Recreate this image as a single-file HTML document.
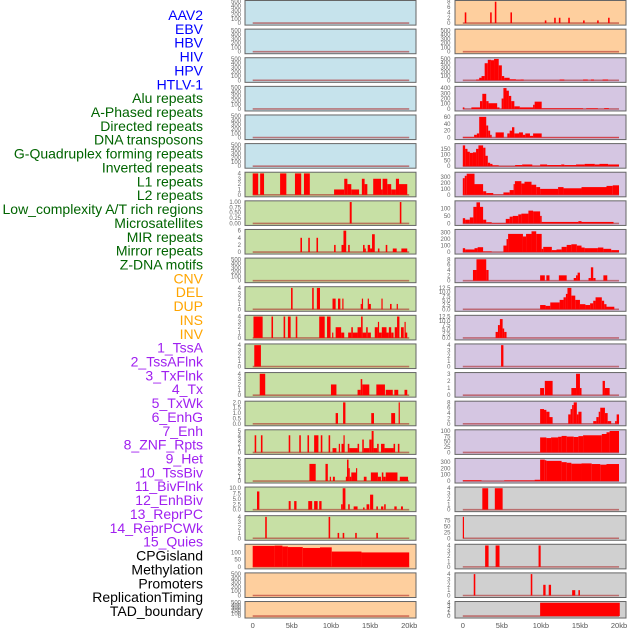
<!DOCTYPE html>
<html><head><meta charset="utf-8">
<style>
html,body{margin:0;padding:0;background:#fff;width:630px;height:630px;overflow:hidden}
svg{display:block;font-family:"Liberation Sans",sans-serif}
</style></head>
<body>
<svg id="chart" width="630" height="630" viewBox="0 0 630 630"></svg>
<script>
// ---- labels ----
const rowLabels = ["AAV2","EBV","HBV","HIV","HPV","HTLV-1","Alu repeats","A-Phased repeats","Directed repeats","DNA transposons","G-Quadruplex forming repeats","Inverted repeats","L1 repeats","L2 repeats","Low_complexity A/T rich regions","Microsatellites","MIR repeats","Mirror repeats","Z-DNA motifs","CNV","DEL","DUP","INS","INV","1_TssA","2_TssAFlnk","3_TxFlnk","4_Tx","5_TxWk","6_EnhG","7_Enh","8_ZNF_Rpts","9_Het","10_TssBiv","11_BivFlnk","12_EnhBiv","13_ReprPC","14_ReprPCWk","15_Quies","CPGisland","Methylation","Promoters","ReplicationTiming","TAD_boundary"];
const labelColors = ["#0000ff","#006400","#ffa500","#a020f0","#000000"];
const labelGroup = [0,0,0,0,0,0,1,1,1,1,1,1,1,1,1,1,1,1,1,2,2,2,2,2,3,3,3,3,3,3,3,3,3,3,3,3,3,3,3,4,4,4,4,4];
const xTickKb = [0,5,10,15,20];
const xTickLabels = ["0","5kb","10kb","15kb","20kb"];
const T500=["0","100","200","300","400","500"], T4=["0","1","2","3","4"], T8=["0","2","4","6","8"];
// ---- left column data: [startKb, endKb, value] ----
const L_L1=[[0,0.7,4],[0.95,1.45,4],[3.5,4.3,4],[5.4,6.2,4],[6.55,7.3,4],[10.4,11.7,1],[11.7,12.1,3],[12.1,12.6,2],[12.6,13.6,1],[13.95,14.3,3],[14.3,14.65,2],[15.4,16.4,3],[16.4,16.6,1],[16.6,17.2,3],[17.2,17.7,2],[17.7,18.3,1],[18.3,18.7,3],[18.7,19.4,2],[19.4,19.75,2]];
const L_LowComp=[[12.4,12.65,1],[18.8,19.0,1]];
const L_MIR=[[6.1,6.3,4],[7.1,7.3,4],[8.15,8.35,4],[10.4,10.6,2],[11.35,11.6,2],[11.6,11.95,6],[12.2,12.4,2],[14.1,14.3,2],[14.3,14.4,1],[14.7,15.0,2],[15.0,15.25,1],[15.25,15.6,5],[16.0,16.2,1],[17.0,17.2,2],[17.9,18.4,1],[19.0,19.75,1]];
const L_DEL=[[4.9,5.1,4],[7.6,7.8,4],[8.2,8.6,4],[10.2,10.6,2],[10.9,11.2,2],[11.45,11.6,2],[13.8,13.95,1],[13.95,14.1,2],[14.7,14.85,2],[14.85,15.1,1],[16.45,16.6,2],[17.55,17.75,1],[18.4,18.55,1]];
const L_INS=[[0.1,1.27,4],[2.4,2.6,4],[3.95,4.15,4],[4.5,4.85,4],[5.5,5.7,4],[8.5,9.2,4],[9.5,9.95,4],[10.15,10.3,1],[10.6,11.3,2],[11.3,11.7,1],[12.2,12.6,1],[12.6,12.8,2],[12.8,13.4,1],[13.4,13.85,2],[13.85,14.05,4],[14.05,14.5,1],[14.5,14.7,2],[14.7,15.1,1],[15.6,16.0,2],[16.0,16.1,3],[16.1,16.5,1],[16.5,17.1,2],[17.1,17.4,1],[17.4,17.7,2],[17.7,18.0,1],[18.15,18.45,2],[18.45,18.75,4],[18.95,19.3,2],[19.4,19.5,3],[19.5,19.75,1]];
const L_TssA=[[0.2,1.05,4]];
const L_TxFlnk=[[0.9,1.6,4],[10.0,10.7,2],[13.4,13.8,1],[13.8,14.0,3],[14.0,14.9,2],[15.8,16.9,2],[17.0,17.9,1],[18.1,18.6,1],[19.4,19.75,1]];
const L_TxWk=[[10.6,10.9,1],[11.55,11.85,2],[15.15,15.5,1],[17.7,18.2,1],[18.65,18.8,2]];
const L_Enh=[[0.25,0.45,4],[1.05,1.25,4],[4.6,4.8,4],[5.95,6.15,4],[7.0,7.2,4],[7.85,8.4,4],[8.7,8.9,4],[9.7,9.9,4],[10.2,10.7,1],[11.0,11.15,2],[11.35,11.6,2],[11.6,11.75,4],[12.15,12.35,2],[12.35,13.4,1],[13.4,13.6,2],[14.0,14.2,3],[14.2,14.9,1],[14.9,15.2,3],[15.2,15.45,5],[15.45,15.9,1],[15.9,16.1,2],[16.4,16.85,2],[16.85,18.0,1],[18.0,18.2,2],[18.55,18.75,2]];
const L_Het=[[7.25,8.05,4],[9.3,9.6,4],[9.85,10.0,1],[10.25,10.5,1],[11.9,12.05,1],[12.05,12.25,5],[12.25,12.4,3],[12.4,12.6,1],[12.6,13.2,2],[13.2,13.35,3],[14.2,14.55,1],[15.1,16.0,2],[16.0,16.4,1],[16.5,16.7,2],[16.7,17.0,1],[17.0,18.5,2],[18.8,19.85,1]];
const L_BivFlnk=[[0.55,0.85,8.5],[4.6,4.85,4],[5.3,5.6,4],[7.1,7.6,4],[7.85,8.3,4],[8.5,8.8,4],[11.3,11.5,2.5],[11.5,11.85,10],[12.2,12.4,2.5],[12.9,13.4,1.5],[14.1,14.3,1],[14.55,14.9,2.5],[15.0,15.4,7],[15.8,16.0,1.5],[16.4,16.7,1.5],[16.8,17.0,2.5],[18.1,18.4,1.5],[18.95,19.2,1.5]];
const L_ReprPC=[[1.6,1.8,4],[9.7,9.9,4],[10.85,11.05,1],[11.5,11.7,1],[13.1,13.3,1],[15.8,16.0,1]];
const L_Methyl=[[0,2.8,145],[2.8,3.8,147],[3.8,4.5,141],[4.5,6.4,137],[6.4,8.6,131],[8.6,10.1,135],[10.1,13.9,106],[13.9,20,100]];
// ---- right column data ----
const R_AAV2=[[0.25,0.45,4],[3.5,3.7,4],[4.1,4.3,8],[6.1,6.3,4],[10.5,10.7,1],[11.7,11.9,2],[12.3,12.5,2],[13.5,13.7,2],[15.4,15.6,1],[17.2,17.4,1],[18.6,18.8,2]];
const R_HIV=[[1.7,2.1,20],[2.1,2.4,60],[2.4,2.8,100],[2.8,3.2,400],[3.2,3.6,480],[3.6,4.0,470],[4.0,4.6,500],[4.6,5.0,350],[5.0,5.3,100],[5.3,6.0,60],[6.0,6.8,25],[6.8,7.4,15],[7.4,7.8,20],[12.4,13.0,20],[15.4,16.0,20],[16.4,16.8,20],[17.9,18.6,20]];
const R_Alu=[[0,0.2,30],[1.1,2.2,30],[2.2,2.5,150],[2.5,3.0,290],[3.0,3.3,150],[3.3,4.4,110],[4.4,4.7,30],[4.97,5.2,200],[5.2,5.6,400],[5.6,5.9,350],[5.9,6.2,250],[6.2,6.6,150],[6.6,7.3,50],[7.3,9.0,30],[9.0,9.2,80],[9.2,10.1,140],[10.1,15.4,12],[15.8,17.3,12],[18.1,18.7,15]];
const R_Directed=[[0,1.45,2],[1.45,1.8,8],[1.8,2.1,12],[2.1,3.0,60],[3.0,3.25,35],[3.25,3.5,20],[3.5,3.7,8],[4.2,5.25,15],[5.7,6.0,12],[6.0,6.3,20],[6.3,6.6,30],[6.6,7.2,12],[7.2,7.7,15],[7.7,8.0,8],[8.0,8.6,12],[8.6,9.0,5],[9.0,10.1,12],[10.1,20,1]];
const R_GQuad=[[0,0.3,180],[0.3,0.6,150],[0.6,0.9,125],[0.9,1.3,115],[1.3,1.7,120],[1.7,2.0,150],[2.0,2.6,180],[2.6,2.9,160],[2.9,3.2,90],[3.2,3.5,30],[3.5,3.8,20],[3.8,4.6,8],[4.6,6.7,2],[6.7,7.6,10],[7.6,8.9,15],[8.9,9.9,5],[9.9,10.8,15],[10.8,12.6,10],[12.6,13.0,15],[13.0,14.5,10],[14.5,15.6,15],[15.6,16.9,20],[16.9,17.5,15],[17.5,18.6,20],[18.6,20,15]];
const R_L1=[[0,0.25,280],[0.25,0.5,320],[0.5,1.5,355],[1.5,2.6,180],[2.6,3.0,60],[3.0,3.9,30],[3.9,5.2,5],[5.2,6.0,40],[6.0,6.5,80],[6.5,6.67,180],[6.67,7.5,230],[7.5,7.9,190],[7.9,8.8,220],[8.8,9.4,170],[9.4,9.9,130],[9.9,12.2,100],[12.2,12.9,130],[12.9,15.2,110],[15.2,18.4,130],[18.4,19.2,150],[19.2,20,160]];
const R_LowComp=[[0,0.3,35],[0.3,0.9,25],[0.9,1.35,40],[1.35,1.75,110],[1.75,2.2,140],[2.2,2.6,110],[2.6,3.0,25],[3.0,3.7,8],[3.7,5.5,3],[5.5,6.0,30],[6.0,6.4,45],[6.4,7.1,50],[7.1,7.5,60],[7.5,8.4,65],[8.4,9.0,85],[9.0,9.9,80],[9.9,10.1,50],[10.1,14.8,10],[14.8,15.2,15],[15.2,19.3,10]];
const R_MIR=[[0,0.3,60],[0.3,1.5,40],[1.5,1.9,60],[1.9,2.6,75],[2.6,3.7,10],[5.2,5.6,100],[5.6,5.8,200],[5.8,7.7,280],[7.7,8.1,240],[8.1,8.8,280],[8.8,9.4,320],[9.4,10.1,280],[10.1,10.3,50],[10.3,11.4,80],[11.4,12.0,30],[12.0,12.65,40],[12.65,13.3,80],[13.3,13.9,110],[13.9,14.6,120],[14.6,15.2,100],[15.2,15.6,70],[15.6,17.3,60],[17.3,18.0,70],[18.0,19.0,50],[19.0,20,30]];
const R_ZDNA=[[1.3,1.75,4],[1.75,3.0,8],[3.0,3.3,4],[9.9,10.5,2],[10.7,11.1,2],[12.3,13.3,2],[14.2,14.5,1],[14.5,14.7,2],[14.7,15.0,3],[16.1,16.4,1],[16.4,16.7,5],[16.7,17.0,1],[18.0,18.5,2]];
const R_DEL=[[9.9,10.6,2.5],[10.6,11.2,2],[11.2,12.4,4],[12.4,12.9,5.5],[12.9,13.2,7],[13.2,13.4,9],[13.4,13.9,12.5],[13.9,14.4,8],[14.4,15.0,5.5],[15.0,15.7,3],[15.7,16.3,2.5],[16.3,16.7,3.5],[16.7,17.0,5],[17.0,17.8,7],[17.8,18.1,5],[18.1,18.4,3],[18.4,19.4,1.5]];
const R_INS=[[4.2,4.5,3.5],[4.5,4.75,7.5],[4.75,5.1,11],[5.1,5.3,5.5],[5.3,5.6,3.5]];
const R_TssA=[[4.9,5.2,4]];
const R_TxFlnk=[[9.9,10.4,1],[10.5,11.5,2],[13.9,14.5,1],[14.5,15.0,3],[15.0,15.2,1],[17.9,18.2,2],[18.2,18.8,1]];
const R_TxWk=[[9.9,10.4,5.5],[10.4,10.7,5.2],[10.7,11.1,4.5],[11.1,11.5,2.5],[13.5,13.8,3.5],[13.8,14.0,5.5],[14.0,14.2,7],[14.2,14.6,8],[14.6,14.8,3.5],[14.8,15.2,4.5],[16.7,17.1,1],[17.1,17.4,2.5],[17.4,17.6,4.5],[17.6,18.2,6],[18.2,18.55,4],[18.55,19.0,1],[19.5,19.7,1],[19.7,20,3.5]];
const R_Enh=[[9.9,10.7,70],[10.7,11.3,67],[11.3,12.2,70],[12.2,12.65,73],[12.65,13.3,77],[13.3,14.2,74],[14.2,14.8,72],[14.8,15.4,76],[15.4,17.8,80],[17.8,18.4,86],[18.4,18.8,94],[18.8,20,100]];
const R_Het=[[0,2.4,12],[5.3,9.2,10],[9.2,9.9,20],[9.9,10.5,340],[10.5,10.7,330],[10.7,12.65,320],[12.65,13.3,300],[13.3,13.9,290],[13.9,15.2,275],[15.2,16.5,280],[16.5,17.6,270],[17.6,18.4,260],[18.4,20,270]];
const R_BivFlnk=[[2.5,3.25,4],[4.1,5.1,4]];
const R_ReprPC=[[0,0.15,90]];
const R_CPG=[[2.86,3.3,4],[4.2,4.7,4],[9.7,9.97,4]];
const R_Promoters=[[1.4,1.6,4],[8.7,8.9,4],[10.3,10.6,2],[11.0,11.3,2],[14.0,14.4,1],[14.8,15.0,1]];
const R_TAD=[[9.9,20.1,4]];

const BG={blue:"#c6e3ec",green:"#c7e0a5",orange:"#fecf9e",purple:"#d5c6e2",gray:"#d0d0d0"};
const E=[];
const leftPanels=[
 ["aav2-ebv","blue",500,T500,E],["hbv-hiv","blue",500,T500,E],["hpv-htlv1","blue",500,T500,E],
 ["alu-aphased","blue",500,T500,E],["directed-dnatransposons","blue",500,T500,E],["gquad-inverted","blue",500,T500,E],
 ["l1-l2","green",4,T4,L_L1],["lowcomp-microsat","green",1,["0.00","0.25","0.50","0.75","1.00"],L_LowComp],
 ["mir-mirror","green",6,["0","2","4","6"],L_MIR],["zdna-cnv","green",500,T500,E],
 ["del-dup","green",4,T4,L_DEL],["ins-inv","green",4,T4,L_INS],["tssa-tssaflnk","green",4,T4,L_TssA],
 ["txflnk-tx","green",4,T4,L_TxFlnk],["txwk-enhg","green",2,["0.0","0.5","1.0","1.5","2.0"],L_TxWk],
 ["enh-znf","green",5,["0","1","2","3","4","5"],L_Enh],["het-tssbiv","green",5,["0","1","2","3","4","5"],L_Het],
 ["bivflnk-enhbiv","green",10,["0.0","2.5","5.0","7.5","10.0"],L_BivFlnk],["reprpc-reprpcwk","green",4,T4,L_ReprPC],
 ["quies-cpgisland","orange",148,["0","50","100"],L_Methyl],["methylation-promoters","orange",500,T500,E],["reptiming-tad","orange",500,T500,E]];
const rightPanels=[
 ["aav2-ebv","orange",8,T8,R_AAV2],["hbv-hiv","orange",500,T500,E],["hpv-htlv1","purple",500,T500,R_HIV],
 ["alu-aphased","purple",410,["0","100","200","300","400"],R_Alu],["directed-dnatransposons","purple",62,["0","20","40","60"],R_Directed],
 ["gquad-inverted","purple",185,["0","50","100","150"],R_GQuad],["l1-l2","purple",360,["0","100","200","300"],R_L1],
 ["lowcomp-microsat","purple",142,["0","50","100"],R_LowComp],["mir-mirror","purple",330,["0","100","200","300"],R_MIR],
 ["zdna-cnv","purple",8,T8,R_ZDNA],["del-dup","purple",12.5,["0.0","2.5","5.0","7.5","10.0","12.5"],R_DEL],
 ["ins-inv","purple",12.5,["0.0","2.5","5.0","7.5","10.0","12.5"],R_INS],["tssa-tssaflnk","purple",4,T4,R_TssA],
 ["txflnk-tx","purple",3,["0","1","2","3"],R_TxFlnk],["txwk-enhg","purple",8,T8,R_TxWk],
 ["enh-znf","purple",100,["0","25","50","75","100"],R_Enh],["het-tssbiv","purple",340,["0","100","200","300"],R_Het],
 ["bivflnk-enhbiv","gray",4,T4,R_BivFlnk],["reprpc-reprpcwk","gray",90,["0","25","50","75"],R_ReprPC],
 ["quies-cpgisland","gray",4,T4,R_CPG],["methylation-promoters","gray",4,T4,R_Promoters],["reptiming-tad","gray",4,T4,R_TAD]];

const NS="http://www.w3.org/2000/svg";
const svg=document.getElementById("chart");
function mk(tag,attrs,parent){const el=document.createElementNS(NS,tag);for(const k in attrs)el.setAttribute(k,attrs[k]);(parent||svg).appendChild(el);return el;}

// labels
rowLabels.forEach((t,i)=>{
  const el=mk("text",{x:203,y:15+13.86*i+5,"text-anchor":"end","font-size":"14",fill:labelColors[labelGroup[i]]});
  el.textContent=t;
  
  
});

function rowTop(i){return 0.5+i*28.62;}
function rowH(i){return i===21?16.5:24.6;}

function drawPanel(p,i,side){
  const px=side==="left"?245:455, pw=171;
  const x0=side==="left"?252.7:462.8, x20=side==="left"?409.2:619;
  const xs=kb=>x0+(x20-x0)*kb/20;
  const top=rowTop(i), h=rowH(i);
  const yTop=top+1.2, yBase=top+h-2;
  const ys=v=>yBase-(yBase-yTop)*v/p[2];
  const g=mk("g",{});
  
  
  const bg=mk("rect",{x:px,y:top,width:pw,height:h,fill:BG[p[1]],stroke:"#666","stroke-width":"1"},g);
  
  
  // baseline
  const bl=mk("line",{x1:xs(0),x2:xs(20),y1:yBase,y2:yBase,stroke:"rgba(170,30,30,0.55)","stroke-width":"1.6"},g);
  
  
  p[4].forEach(d=>{
    const x=xs(d[0]), w=Math.max(1.2,xs(d[1])-xs(d[0])), y=ys(d[2]);
    const r=mk("rect",{x:x,y:y,width:w,height:Math.max(0,yBase-y),fill:"#ff0000"},g);
    
    
  });
  // y ticks
  const n=p[3].length;
  p[3].forEach((t,k)=>{
    const v=parseFloat(t);
    const tx=mk("text",{x:side==="left"?241:450.5,y:ys(v)+2,"text-anchor":"end","font-size":"6",fill:"#666"},g);
    tx.textContent=t;
    
    
  });
}
leftPanels.forEach((p,i)=>drawPanel(p,i,"left"));
rightPanels.forEach((p,i)=>drawPanel(p,i,"right"));

// x axis labels
["left","right"].forEach(side=>{
  const x0=side==="left"?252.7:462.8, x20=side==="left"?409.2:619;
  xTickKb.forEach((kb,k)=>{
    const t=mk("text",{x:x0+(x20-x0)*kb/20,y:628,"text-anchor":"middle","font-size":"7.5",fill:"#555"});
    t.textContent=xTickLabels[k];
    
    
  });
});
</script>
</body></html>
